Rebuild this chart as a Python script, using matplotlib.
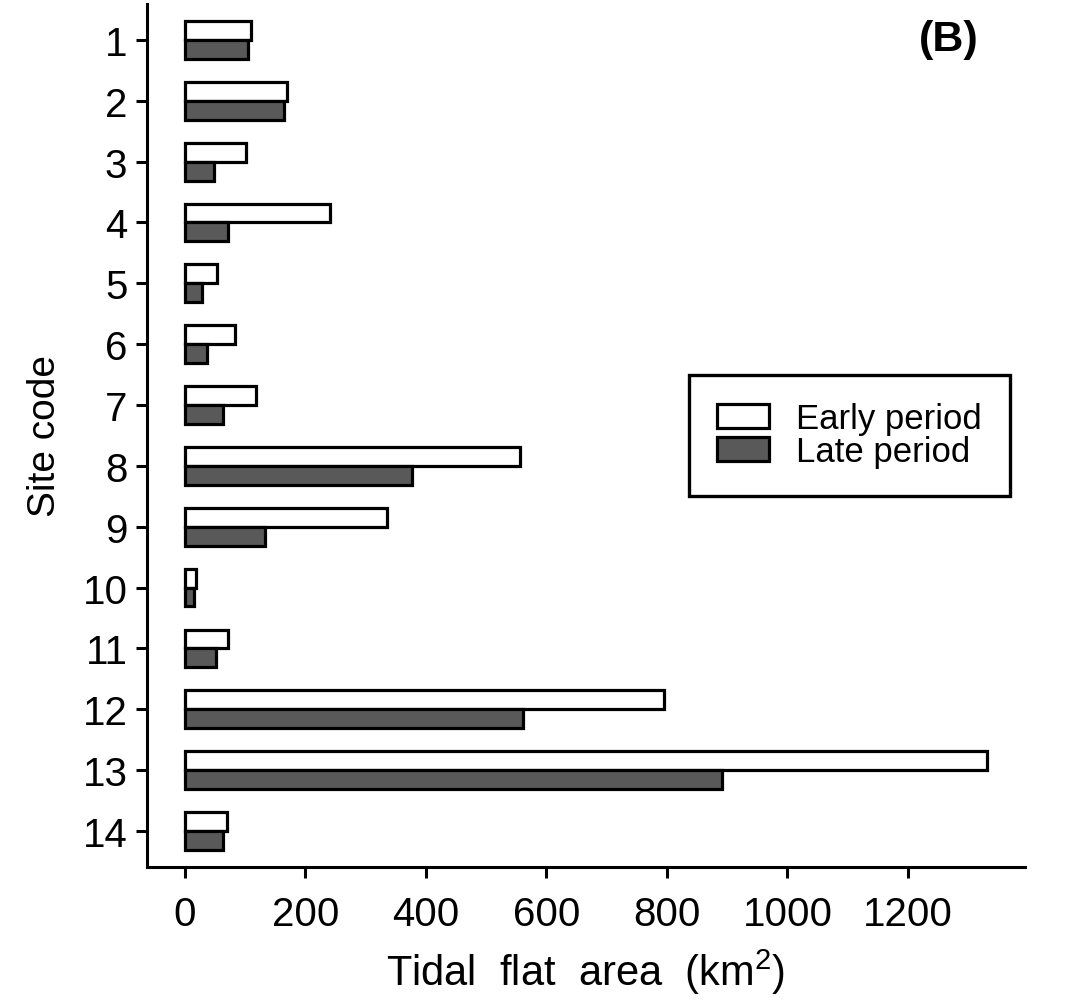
import matplotlib.pyplot as plt
import numpy as np

sites = [str(i) for i in range(1, 15)]
early = [110, 169, 101, 241, 53, 83, 118, 556, 335, 18, 71, 795, 1331, 70]
late = [105, 164, 49, 72, 28, 36, 63, 377, 133, 15, 51, 561, 891, 63]

plt.rcParams['font.family'] = ['Liberation Sans', 'DejaVu Sans']
plt.rcParams['mathtext.fontset'] = 'custom'
plt.rcParams['mathtext.rm'] = 'Liberation Sans'

fig = plt.figure(figsize=(10.8, 10.04), dpi=100)
ax = fig.add_axes([0.136, 0.1355, 0.813, 0.8595])

y = np.arange(1, len(sites) + 1)
h = 0.31
ax.barh(y - h / 2, early, height=h, color='white', edgecolor='black',
        linewidth=2.3, label='Early period')
ax.barh(y + h / 2, late, height=h, color='#595959', edgecolor='black',
        linewidth=2.3, label='Late period')

ax.set_xlim(-63, 1394)
ax.set_ylim(14.59, 0.41)
ax.set_yticks(y)
ax.set_yticklabels(sites)
ax.set_xticks([0, 200, 400, 600, 800, 1000, 1200])

for s in ['top', 'right']:
    ax.spines[s].set_visible(False)
for s in ['left', 'bottom']:
    ax.spines[s].set_linewidth(2.2)
ax.tick_params(axis='both', direction='out', length=8, width=2.2,
               labelsize=29)
ax.tick_params(axis='x', pad=12)
ax.tick_params(axis='y', pad=6)

ax.set_ylabel('Site code', fontsize=28, labelpad=14)
ax.set_xlabel('Tidal  flat  area  (km$^2$)', fontsize=30, labelpad=10)

ax.text(0.947, 0.983, '(B)', transform=ax.transAxes, fontsize=31,
        fontweight='bold', ha='right', va='top')

leg = ax.legend(loc='center', bbox_to_anchor=(0.8, 0.5), fontsize=25,
                frameon=True, fancybox=False, edgecolor='black',
                framealpha=1, handlelength=1.5, handleheight=0.7,
                labelspacing=0.0, borderpad=0.8, handletextpad=0.8,
                borderaxespad=0)
leg.get_frame().set_linewidth(2.4)

fig.savefig('out.png', dpi=100)
